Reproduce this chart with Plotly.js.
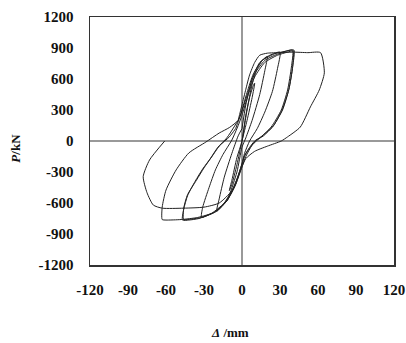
<!DOCTYPE html>
<html>
<head>
<meta charset="utf-8">
<script src="https://cdn.plot.ly/plotly-3.0.1.min.js"></script>
<style>html,body{margin:0;padding:0;background:#fff;}#chart{width:406px;height:343px;}</style>
</head>
<body>
<div id="chart"></div>
<script>
// Displacement (mm) and load (kN), cycle by cycle
const dispCycle1 = [0, 3, 6, 9, 10, 8, 4, 0, -4, -8, -10, -8, -4, 0];
const loadCycle1 = [0, 250, 420, 540, 560, 420, 200, 0, -230, -420, -480, -380, -160, 0];

const dispCycle2 = [0, 4, 8, 12, 16, 20, 18, 14, 8, 3, 0, -4, -10, -15, -20, -18, -14, -8, -3, 0];
const loadCycle2 = [0, 300, 550, 700, 780, 820, 680, 450, 200, 30, -60, -300, -520, -620, -680, -560, -350, -120, 50, 120];

const dispCycle3 = [0, 3, 8, 14, 22, 30, 28, 24, 18, 12, 6, 2, 0, -5, -12, -20, -27, -32, -31, -26, -21, -15, -8, -3];
const loadCycle3 = [120, 350, 600, 760, 830, 860, 700, 480, 280, 120, 0, -120, -220, -400, -580, -680, -720, -740, -640, -450, -280, -130, 10, 150];

const dispCycle4 = [-3, 0, 5, 10, 18, 28, 36, 40, 39, 36, 31, 23, 15, 10, 5, 2, 0, -5, -12, -22, -32, -40, -46, -46, -43, -36, -30, -24, -18, -10, -5];
const loadCycle4 = [150, 250, 450, 620, 760, 830, 860, 870, 716, 494, 300, 135, 40, 0, -80, -150, -230, -420, -580, -690, -740, -755, -760, -650, -520, -380, -260, -155, -50, 40, 120];

const dispCycle5 = [-5, -1, 4, 9, 16, 26, 35, 41, 40, 37, 32, 25, 17, 11, 6, 2, 0, -6, -14, -24, -34, -42, -47, -46, -43, -37, -31, -25, -19, -12, -3];
const loadCycle5 = [120, 260, 470, 650, 780, 845, 870, 880, 720, 500, 310, 150, 50, 5, -70, -140, -220, -440, -600, -700, -750, -765, -765, -660, -530, -390, -270, -170, -60, 30, 200];

const dispCycle6 = [-3, 0, 5, 10, 18, 28, 40, 40, 37, 32, 24, 15, 8, 3, 0, -5, -12, -22, -35, -48, -60, -63, -63, -60, -52, -42, -28.5, -18, -10, -3];
const loadCycle6 = [200, 290, 480, 650, 780, 840, 880, 720, 500, 300, 135, 40, -40, -150, -250, -420, -580, -690, -740, -760, -765, -760, -640, -475, -280, -116, -10, 77, 130, 200];

const dispCycle7 = [-3, 0, 3, 6, 10, 14, 20, 30, 40, 52, 62, 65, 61, 54, 46, 36, 31, 20, 10, 3, 0, -8, -18, -30, -46, -63, -70, -75, -78, -73, -61];
const loadCycle7 = [200, 350, 500, 640, 760, 830, 850, 855, 860, 855, 855, 660, 494, 330, 135, 40, 0, -50, -100, -170, -250, -480, -600, -640, -650, -650, -620, -500, -345, -184, 0];

const xTicks = [-120, -90, -60, -30, 0, 30, 60, 90, 120];
const yTicks = [-1200, -900, -600, -300, 0, 300, 600, 900, 1200];

const cycles = [
  [dispCycle1, loadCycle1], [dispCycle2, loadCycle2], [dispCycle3, loadCycle3],
  [dispCycle4, loadCycle4], [dispCycle5, loadCycle5], [dispCycle6, loadCycle6],
  [dispCycle7, loadCycle7]
];

const traces = cycles.map(c => ({
  x: c[0], y: c[1], type: 'scatter', mode: 'lines',
  line: {color: '#222', width: 1, shape: 'spline', smoothing: 0.6},
  hoverinfo: 'skip', showlegend: false
}));

const tickFont = {family: '"Liberation Serif", "Times New Roman", serif', size: 15, color: '#111', weight: 'bold'};

const layout = {
  width: 406, height: 343,
  margin: {l: 90, r: 12, t: 17, b: 78},
  paper_bgcolor: '#fff', plot_bgcolor: '#fff',
  showlegend: false,
  xaxis: {
    range: [-120, 120], tickvals: xTicks, ticktext: xTicks.map(String),
    showgrid: false, zeroline: true, zerolinecolor: '#999', zerolinewidth: 2,
    showline: true, mirror: true, linecolor: '#333', linewidth: 1.5,
    ticks: '', ticklabelstandoff: 10, ticklabeloverflow: 'allow',
    tickfont: tickFont, fixedrange: true
  },
  yaxis: {
    range: [-1200, 1200], tickvals: yTicks, ticktext: yTicks.map(String),
    showgrid: false, zeroline: true, zerolinecolor: '#999', zerolinewidth: 2,
    showline: true, mirror: true, linecolor: '#333', linewidth: 1.5,
    ticks: '', ticklabelstandoff: 12, ticklabeloverflow: 'allow',
    tickfont: tickFont, fixedrange: true
  },
  annotations: [
    {text: '<i>Δ</i> /mm', xref: 'paper', yref: 'paper', x: 0.46, y: -0.274,
     xanchor: 'center', yanchor: 'middle', showarrow: false,
     font: {family: '"Liberation Serif", "Times New Roman", serif', size: 13, color: '#111', weight: 'bold'}},
    {text: '<i>P</i>/kN', xref: 'paper', yref: 'paper', x: -0.246, y: 0.47,
     xanchor: 'center', yanchor: 'middle', showarrow: false, textangle: -90,
     font: {family: '"Liberation Serif", "Times New Roman", serif', size: 13, color: '#111', weight: 'bold'}}
  ]
};

Plotly.newPlot('chart', traces, layout, {displayModeBar: false, staticPlot: true});
</script>
</body>
</html>
